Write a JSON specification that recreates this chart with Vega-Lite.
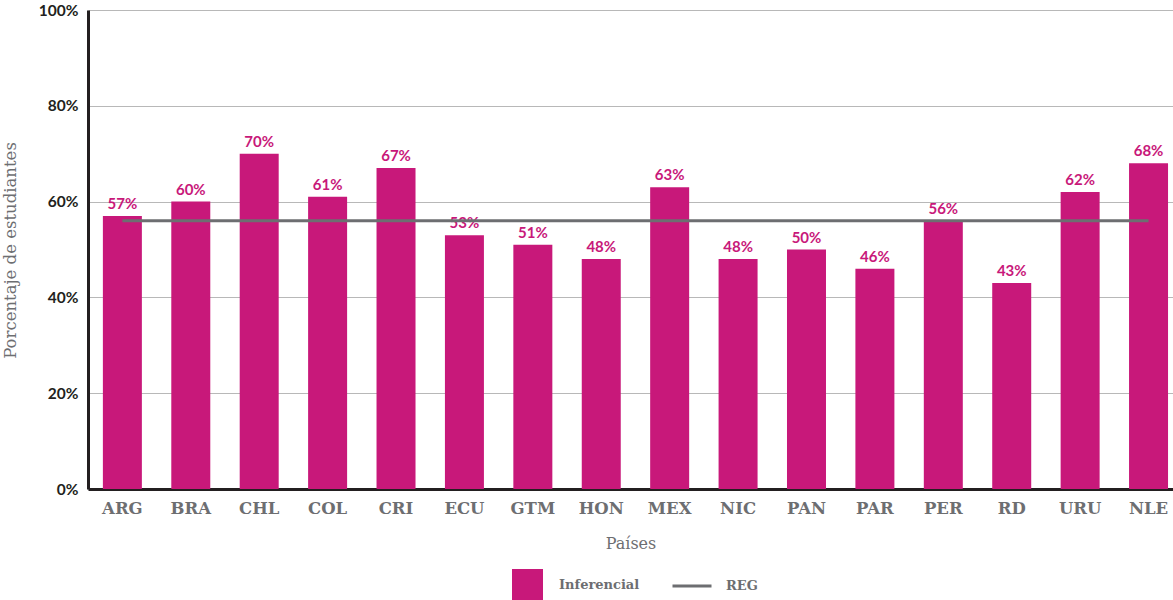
{
  "$schema": "https://vega.github.io/schema/vega-lite/v6.json",
  "width": 1085,
  "height": 479,
  "autosize": "none",
  "padding": {"left": 88, "top": 10, "right": 0, "bottom": 111},
  "background": "white",
  "config": {
    "view": {"stroke": null},
    "axis": {"ticks": false},
    "legend": {"padding": 0}
  },
  "data": {
    "values": [
      {"pais": "ARG", "Inferencial": 57, "REG": 56},
      {"pais": "BRA", "Inferencial": 60, "REG": 56},
      {"pais": "CHL", "Inferencial": 70, "REG": 56},
      {"pais": "COL", "Inferencial": 61, "REG": 56},
      {"pais": "CRI", "Inferencial": 67, "REG": 56},
      {"pais": "ECU", "Inferencial": 53, "REG": 56},
      {"pais": "GTM", "Inferencial": 51, "REG": 56},
      {"pais": "HON", "Inferencial": 48, "REG": 56},
      {"pais": "MEX", "Inferencial": 63, "REG": 56},
      {"pais": "NIC", "Inferencial": 48, "REG": 56},
      {"pais": "PAN", "Inferencial": 50, "REG": 56},
      {"pais": "PAR", "Inferencial": 46, "REG": 56},
      {"pais": "PER", "Inferencial": 56, "REG": 56},
      {"pais": "RD", "Inferencial": 43, "REG": 56},
      {"pais": "URU", "Inferencial": 62, "REG": 56},
      {"pais": "NLE", "Inferencial": 68, "REG": 56}
    ]
  },
  "transform": [{"fold": ["Inferencial", "REG"], "as": ["serie", "valor"]}],
  "encoding": {
    "x": {
      "field": "pais",
      "type": "nominal",
      "sort": null,
      "scale": {"paddingInner": 0.43, "paddingOuter": 0.145, "align": 0.75},
      "axis": {
        "title": "Países",
        "labelAngle": 0,
        "labelFont": "DejaVu Serif",
        "labelFontWeight": "bold",
        "labelFontSize": 16.5,
        "labelColor": "#6d6e71",
        "labelPadding": 11,
        "titleFont": "DejaVu Serif",
        "titleFontWeight": "normal",
        "titleFontSize": 16,
        "titleColor": "#6d6e71",
        "titlePadding": 19,
        "domainColor": "#231f20",
        "domainWidth": 3,
        "grid": false
      }
    }
  },
  "layer": [
    {
      "transform": [{"filter": "datum.serie === 'Inferencial'"}],
      "mark": {"type": "bar"},
      "encoding": {
        "y": {
          "field": "valor",
          "type": "quantitative",
          "scale": {"domain": [0, 100]},
          "axis": {
            "title": "Porcentaje de estudiantes",
            "values": [0, 20, 40, 60, 80, 100],
            "labelExpr": "datum.value + '%'",
            "labelFont": "Lato",
            "labelFontWeight": "bold",
            "labelFontSize": 15.5,
            "labelColor": "#231f20",
            "labelPadding": 10,
            "titleFont": "DejaVu Serif",
            "titleFontWeight": "normal",
            "titleFontSize": 16.5,
            "titleColor": "#6d6e71",
            "titleX": -70,
            "titleY": 240,
            "domainColor": "#231f20",
            "domainWidth": 3,
            "gridColor": "#b8b8b8",
            "gridWidth": 1
          }
        },
        "color": {
          "field": "serie",
          "type": "nominal",
          "scale": {"domain": ["Inferencial"], "range": ["#c8187a"]},
          "legend": {
            "title": null,
            "orient": "none",
            "legendX": 424,
            "legendY": 559,
            "direction": "horizontal",
            "labelFont": "DejaVu Serif",
            "labelFontWeight": "bold",
            "labelFontSize": 13,
            "labelColor": "#6d6e71",
            "labelOffset": 16,
            "symbolType": "square",
            "symbolSize": 961,
            "symbolStrokeWidth": 0,
            "symbolOpacity": 1
          }
        }
      }
    },
    {
      "transform": [{"filter": "datum.serie === 'Inferencial'"}, {"calculate": "datum.valor + '%'", "as": "etiqueta"}],
      "mark": {"type": "text", "dy": -12, "font": "Lato", "fontWeight": "bold", "fontSize": 15},
      "encoding": {
        "y": {"field": "valor", "type": "quantitative"},
        "text": {"field": "etiqueta", "type": "nominal"},
        "color": {"value": "#c8187a"}
      }
    },
    {
      "transform": [{"filter": "datum.serie === 'REG'"}],
      "mark": {"type": "line", "strokeWidth": 3},
      "encoding": {
        "y": {"field": "valor", "type": "quantitative"},
        "stroke": {
          "field": "serie",
          "type": "nominal",
          "scale": {"domain": ["REG"], "range": ["#6d6e71"]},
          "legend": {
            "title": null,
            "orient": "none",
            "legendX": 583,
            "legendY": 555,
            "direction": "horizontal",
            "labelFont": "DejaVu Serif",
            "labelFontWeight": "bold",
            "labelFontSize": 13,
            "labelColor": "#6d6e71",
            "labelOffset": 13,
            "symbolType": "stroke",
            "symbolSize": 1521,
            "symbolStrokeWidth": 3,
            "symbolOpacity": 1
          }
        }
      }
    }
  ]
}
